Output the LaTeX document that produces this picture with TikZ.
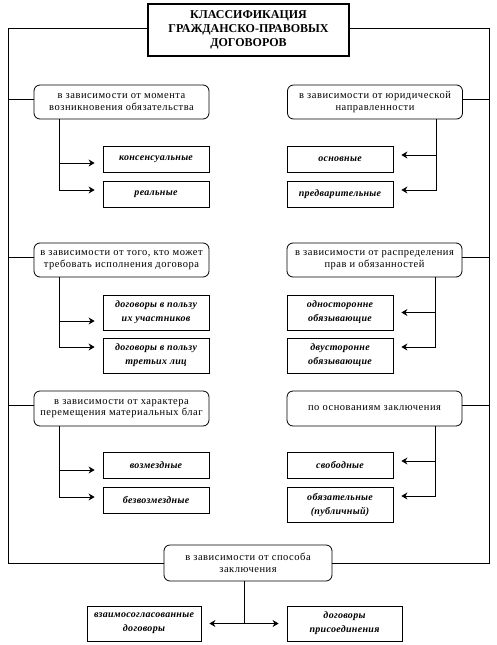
\documentclass[tikz,border=0pt]{standalone}
\usepackage{fontspec}
\setmainfont{Liberation Serif}
\newfontfamily\wideserif[LetterSpace=5]{Liberation Serif}
\newfontfamily\wideital[LetterSpace=3]{Liberation Serif}
\usetikzlibrary{arrows.meta,calc}
\begin{document}
\begin{tikzpicture}[x=1pt,y=-1pt,line width=0.8pt,
  titlebox/.style={draw,line width=2pt,align=center,inner sep=0pt,
    minimum width=201,minimum height=52,font=\bfseries\fontsize{12}{14}\selectfont},
  rbox/.style={draw,rounded corners=6pt,align=center,inner sep=0pt,
    minimum width=175,minimum height=34,font=\wideserif\fontsize{10.5}{11.5}\selectfont},
  ibox/.style={draw,align=center,inner sep=0pt,minimum width=106,
    font=\wideital\bfseries\itshape\fontsize{10}{14}\selectfont},
  arr/.style={-{Stealth[length=6pt,width=7pt]},shorten >=8pt}]
\useasboundingbox (0,0) rectangle (497,645);
% title
\node[titlebox] (t) at (248.5,30) {КЛАССИФИКАЦИЯ\\ГРАЖДАНСКО-ПРАВОВЫХ\\ДОГОВОРОВ};
% criteria boxes
\node[rbox] (a1) at (121.5,102) {в зависимости от момента\\возникновения обязательства};
\node[rbox] (b1) at (375,102) {в зависимости от юридической\\направленности};
\node[rbox] (a2) at (121.5,260) {в зависимости от того, кто может\\требовать исполнения договора};
\node[rbox] (b2) at (374.5,260) {в зависимости от распределения\\прав и обязанностей};
\node[rbox,minimum height=35] (a3) at (121.5,408.5) {в зависимости от характера\\перемещения материальных благ};
\node[rbox,minimum height=35] (b3) at (374.5,408.5) {по основаниям заключения};
\node[rbox,minimum width=168,minimum height=36] (c) at (248,563) {в зависимости от способа\\заключения};
% sub boxes left
\node[ibox,minimum height=26] (a11) at (156,159) {консенсуальные};
\node[ibox,minimum height=26] (a12) at (156,194) {реальные};
\node[ibox,minimum height=35] (a21) at (156,312.5) {договоры в пользу\\их участников};
\node[ibox,minimum height=35] (a22) at (156,355.5) {договоры в пользу\\третьих лиц};
\node[ibox,minimum height=26] (a31) at (156,465) {возмездные};
\node[ibox,minimum height=26] (a32) at (156,500) {безвозмездные};
% sub boxes right
\node[ibox,minimum height=26] (b11) at (340,159) {основные};
\node[ibox,minimum height=26] (b12) at (340,194) {предварительные};
\node[ibox,minimum height=35] (b21) at (340,312.5) {односторонне\\обязывающие};
\node[ibox,minimum height=35] (b22) at (340,355.5) {двусторонне\\обязывающие};
\node[ibox,minimum height=26] (b31) at (340,465) {свободные};
\node[ibox,minimum height=35] (b32) at (340,504.5) {обязательные\\(публичный)};
% bottom sub boxes
\node[ibox,minimum width=114,minimum height=35] (c1) at (144,623.5) {взаимосогласованные\\договоры};
\node[ibox,minimum width=115,minimum height=35] (c2) at (344.5,623.5) {договоры\\присоединения};
% frame
\coordinate (fl) at (8,563);
\coordinate (fr) at (489,563);
\draw ([yshift=2pt]t.west) -| (fl) -- (c.west);
\draw ([yshift=2pt]t.east) -| (fr) -- (c.east);
% connections from frame to criteria
\foreach \n in {a1,a2,a3}{
  \coordinate (\n c) at ([yshift=3pt]\n.west);
  \draw (\n c) -- (\n c -| fl);
}
\foreach \n in {b1,b2,b3}{
  \coordinate (\n c) at ([yshift=3pt]\n.east);
  \draw (\n c) -- (\n c -| fr);
}
% vertical stems
\foreach \n in {a1,a2,a3}{\coordinate (\n v) at ([xshift=26pt]\n.south west);}
\foreach \n in {b1,b2,b3}{\coordinate (\n v) at ([xshift=-27pt]\n.south east);}
\coordinate (cv) at ([xshift=-4pt]c.south);
% arrows
\draw[arr] (a1v) |- ([yshift=-4pt]a11.west);
\draw[arr] (a1v) |- ([yshift=4pt]a12.west);
\draw[arr] (a2v) |- ([yshift=-8.5pt]a21.west);
\draw[arr] (a2v) |- ([yshift=8.5pt]a22.west);
\draw[arr] (a3v) |- ([yshift=-5pt]a31.west);
\draw[arr] (a3v) |- ([yshift=3pt]a32.west);
\draw[arr] (b1v) |- ([yshift=4pt]b11.east);
\draw[arr] (b1v) |- ([yshift=4pt]b12.east);
\draw[arr] (b2v) |- (b21.east);
\draw[arr] (b2v) |- ([yshift=8.5pt]b22.east);
\draw[arr] (b3v) |- ([yshift=4pt]b31.east);
\draw[arr] (b3v) |- ([yshift=8.5pt]b32.east);
\draw[arr] (cv) |- (c1.east);
\draw[arr] (cv) |- (c2.west);
\end{tikzpicture}
\end{document}
